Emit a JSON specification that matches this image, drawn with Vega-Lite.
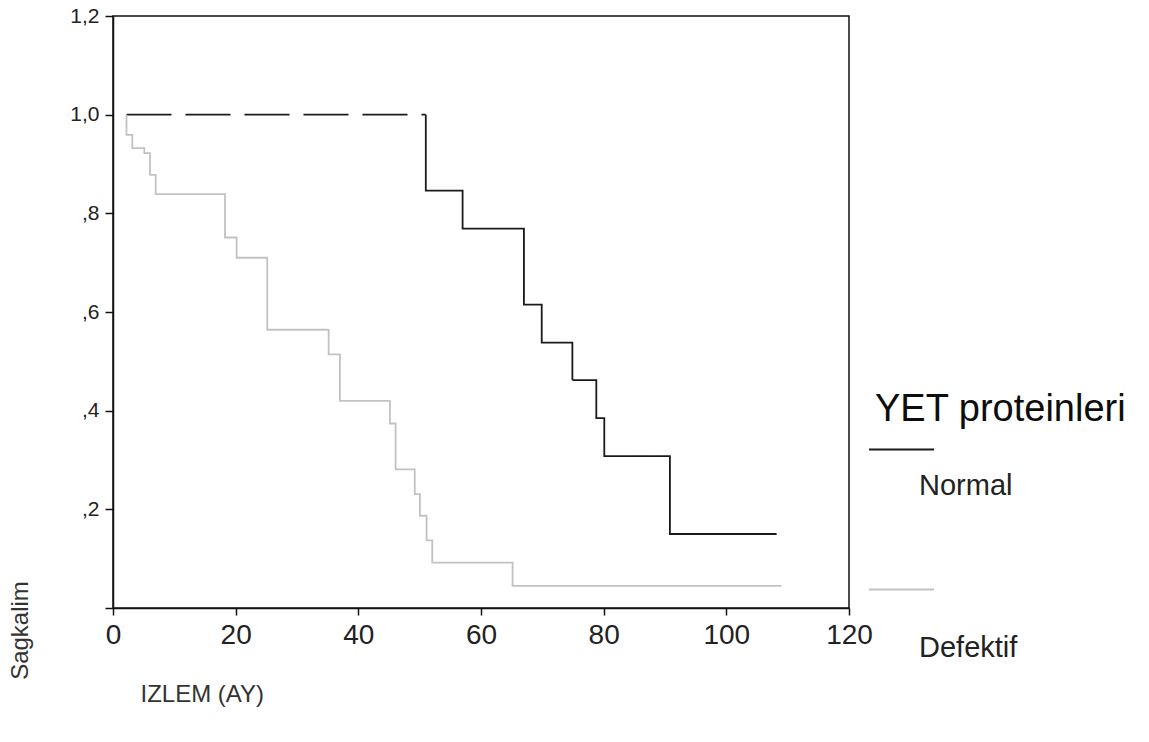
{
  "$schema": "https://vega.github.io/schema/vega-lite/v6.json",
  "autosize": "none",
  "padding": {"left": 113, "top": 16, "right": 300, "bottom": 134},
  "width": 736,
  "height": 592,
  "background": "white",
  "config": {
    "view": {"stroke": "#111", "strokeWidth": 1.5},
    "font": "Liberation Sans",
    "axis": {"grid": false, "domainColor": "#111", "domainWidth": 1.5, "tickColor": "#111", "tickWidth": 1.5, "labelColor": "#222", "titleColor": "#333", "titleFontWeight": "normal", "labelFont": "Liberation Sans", "titleFont": "Liberation Sans"}
  },
  "data": {
    "values": [
      {"series": "Normal", "part": "dash", "i": 1, "t": 2.2, "s": 1.0},
      {"series": "Normal", "part": "dash", "i": 2, "t": 51.0, "s": 1.0},
      {"series": "Normal", "part": "solid", "i": 3, "t": 51.0, "s": 1.0},
      {"series": "Normal", "part": "solid", "i": 4, "t": 51.0, "s": 0.846},
      {"series": "Normal", "part": "solid", "i": 5, "t": 57.0, "s": 0.769},
      {"series": "Normal", "part": "solid", "i": 6, "t": 67.0, "s": 0.615},
      {"series": "Normal", "part": "solid", "i": 7, "t": 69.9, "s": 0.538},
      {"series": "Normal", "part": "solid", "i": 8, "t": 74.9, "s": 0.462},
      {"series": "Normal", "part": "solid", "i": 9, "t": 78.8, "s": 0.385},
      {"series": "Normal", "part": "solid", "i": 10, "t": 80.1, "s": 0.308},
      {"series": "Normal", "part": "solid", "i": 11, "t": 90.8, "s": 0.15},
      {"series": "Normal", "part": "solid", "i": 12, "t": 108.2, "s": 0.15},
      {"series": "Defektif", "part": "solid", "i": 1, "t": 2.2, "s": 1.0},
      {"series": "Defektif", "part": "solid", "i": 2, "t": 2.2, "s": 0.959},
      {"series": "Defektif", "part": "solid", "i": 3, "t": 3.15, "s": 0.932},
      {"series": "Defektif", "part": "solid", "i": 4, "t": 5.1, "s": 0.922},
      {"series": "Defektif", "part": "solid", "i": 5, "t": 6.03, "s": 0.878},
      {"series": "Defektif", "part": "solid", "i": 6, "t": 6.96, "s": 0.839},
      {"series": "Defektif", "part": "solid", "i": 7, "t": 18.26, "s": 0.751},
      {"series": "Defektif", "part": "solid", "i": 8, "t": 20.16, "s": 0.71},
      {"series": "Defektif", "part": "solid", "i": 9, "t": 25.15, "s": 0.564},
      {"series": "Defektif", "part": "solid", "i": 10, "t": 35.16, "s": 0.514},
      {"series": "Defektif", "part": "solid", "i": 11, "t": 37.0, "s": 0.42},
      {"series": "Defektif", "part": "solid", "i": 12, "t": 45.15, "s": 0.374},
      {"series": "Defektif", "part": "solid", "i": 13, "t": 46.08, "s": 0.281},
      {"series": "Defektif", "part": "solid", "i": 14, "t": 49.2, "s": 0.231},
      {"series": "Defektif", "part": "solid", "i": 15, "t": 50.04, "s": 0.187},
      {"series": "Defektif", "part": "solid", "i": 16, "t": 51.13, "s": 0.137},
      {"series": "Defektif", "part": "solid", "i": 17, "t": 52.05, "s": 0.092},
      {"series": "Defektif", "part": "solid", "i": 18, "t": 65.15, "s": 0.045},
      {"series": "Defektif", "part": "solid", "i": 19, "t": 109.0, "s": 0.045}
    ]
  },
  "mark": {"type": "line", "interpolate": "step-after", "strokeWidth": 1.8},
  "encoding": {
    "x": {
      "field": "t", "type": "quantitative",
      "scale": {"domain": [0, 120], "nice": false, "zero": false},
      "axis": {
        "values": [0, 20, 40, 60, 80, 100, 120],
        "tickSize": 7, "labelFontSize": 28, "labelPadding": 6, "labelFlush": false,
        "title": "IZLEM (AY)", "titleFontSize": 24, "titleAnchor": null, "titleAlign": "left", "titleBaseline": "middle", "titleX": 27, "titleY": 86
      }
    },
    "y": {
      "field": "s", "type": "quantitative",
      "scale": {"domain": [0, 1.2], "nice": false},
      "axis": {
        "values": [0, 0.2, 0.4, 0.6, 0.8, 1.0, 1.2],
        "labelExpr": "datum.value == 0 ? '' : (datum.value >= 1 ? replace(format(datum.value, '.1f'), '.', ',') : replace(format(datum.value, '.1f'), '0.', ','))",
        "tickSize": 8, "labelFontSize": 21, "labelPadding": 6, "labelFlush": false,
        "title": "Sagkalim", "titleFontSize": 24, "titleAngle": 270, "titleAnchor": null, "titleAlign": "center", "titleBaseline": "middle", "titleX": -93, "titleY": 614
      }
    },
    "color": {
      "field": "series", "type": "nominal",
      "scale": {"domain": ["Normal", "Defektif"], "range": ["#1a1a1a", "#c2c2c2"]},
      "legend": {
        "title": "YET proteinleri",
        "orient": "none", "legendX": 755, "legendY": 372,
        "padding": 0,
        "titleFontSize": 38, "titleFontWeight": "normal", "titleColor": "#0d0d0d", "titlePadding": -10, "titleLimit": 500,
        "symbolType": "stroke", "symbolSize": 4225, "symbolStrokeWidth": 1.8,
        "labelFontSize": 29, "labelColor": "#222", "labelOffset": -16, "labelLimit": 300,
        "rowPadding": 55,
        "encode": {
          "title": {"update": {"dx": {"value": 7}, "dy": {"value": 3}}},
          "labels": {"update": {"dy": {"signal": "datum.label == 'Normal' ? 36 : 58"}}}
        }
      }
    },
    "strokeDash": {
      "field": "part", "type": "nominal",
      "scale": {"domain": ["dash", "solid"], "range": [[45, 14], [1, 0]]},
      "legend": null
    },
    "order": {"field": "i", "type": "quantitative"}
  }
}
